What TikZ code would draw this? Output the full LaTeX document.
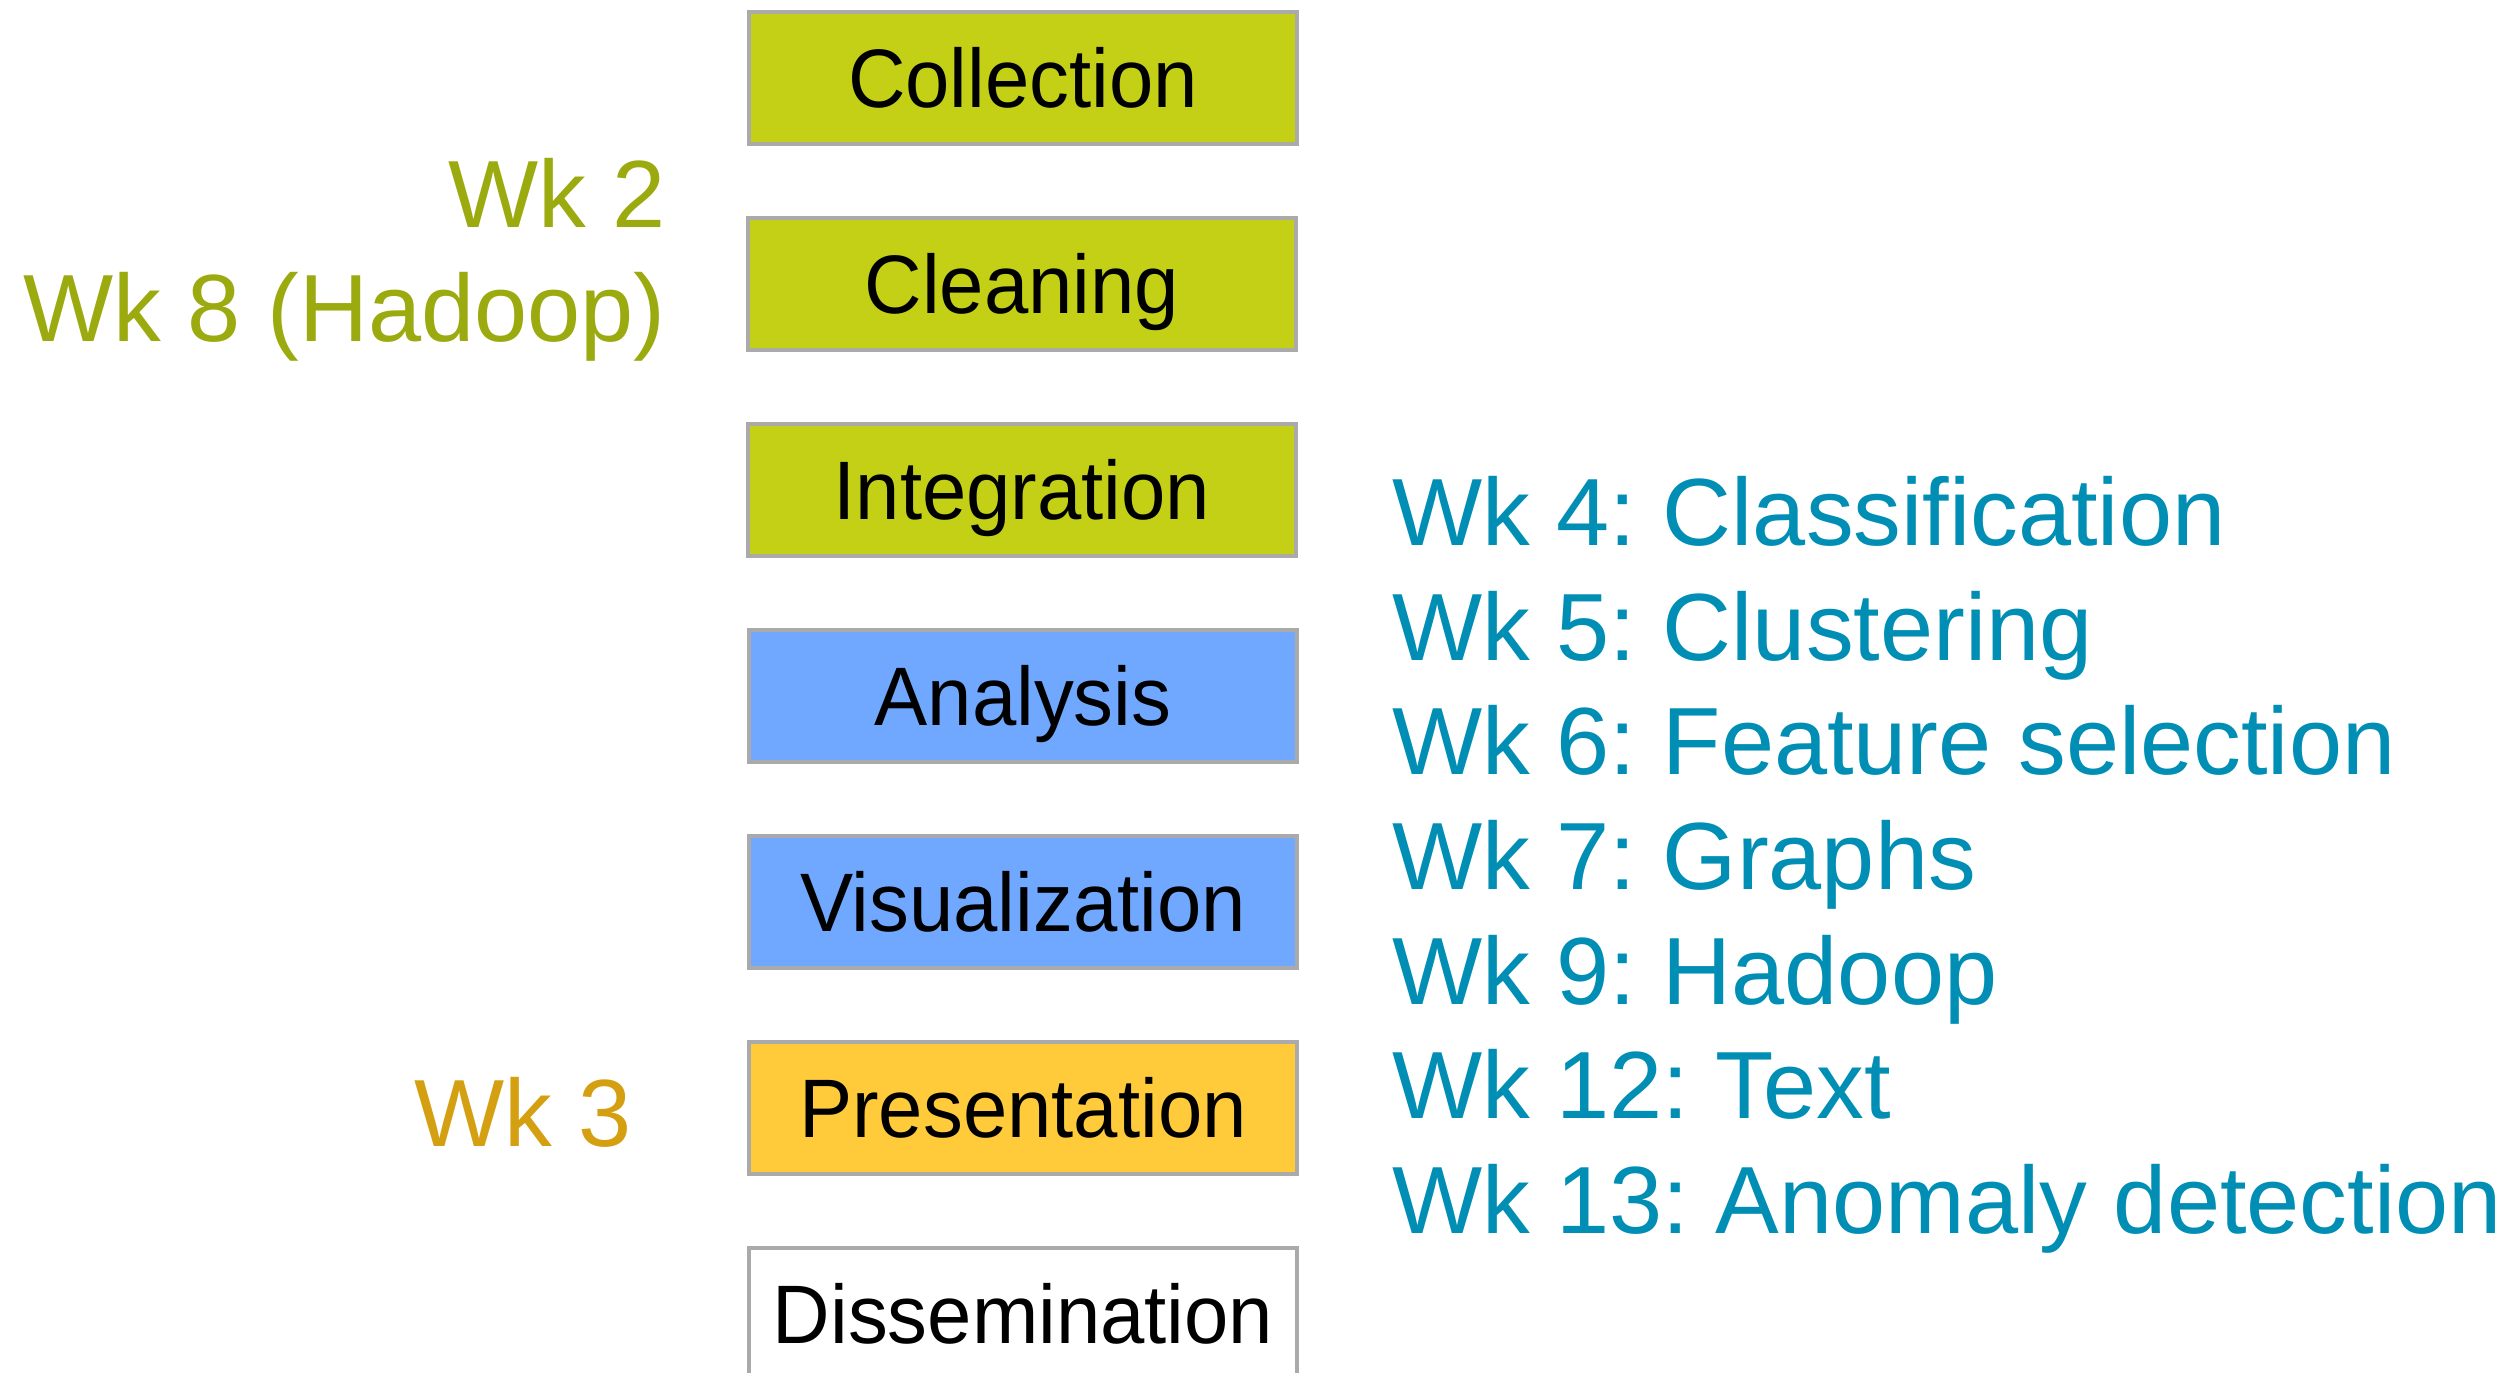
\documentclass[tikz,border=0pt]{standalone}
\usepackage{fontspec}
\setmainfont{Liberation Sans}
\newfontfamily\stagefont[FakeStretch=0.96]{Liberation Sans}
\definecolor{boxgreen}{HTML}{C4D016}
\definecolor{boxblue}{HTML}{6FA8FE}
\definecolor{boxorange}{HTML}{FFCB3B}
\definecolor{boxborder}{HTML}{AAAAAA}
\definecolor{weekblue}{HTML}{008EB4}
\definecolor{weekolive}{HTML}{9BAA0E}
\definecolor{weekgold}{HTML}{D4A012}
\tikzset{
  stage/.style={draw=boxborder, line width=4.5pt, minimum width=548pt, minimum height=132pt,
    inner sep=0pt, text height=59.5pt, text depth=0pt, font=\stagefont\fontsize{83}{96}\selectfont},
  weeklabel/.style={inner sep=0pt, font=\frenchspacing\fontsize{95.5}{114}\selectfont},
}
\begin{document}
\begin{tikzpicture}[x=1pt,y=-1pt]
\useasboundingbox (0,0) rectangle (2514,1373);
\node[stage, fill=boxgreen]  (collection)    at (1023,78)   {Collection};
\node[stage, fill=boxgreen]  (cleaning)      at (1022,284)  {Cleaning};
\node[stage, fill=boxgreen]  (integration)   at (1022,490)  {Integration};
\node[stage, fill=boxblue]   (analysis)      at (1023,696)  {Analysis};
\node[stage, fill=boxblue]   (visualization) at (1023,902)  {Visualization};
\node[stage, fill=boxorange] (presentation)  at (1023,1108) {Presentation};
\node[stage, fill=white]     (dissemination) at (1023,1314) {Dissemination};

\node[weeklabel, text=weekolive, anchor=base east] (wk2) at (666,227) {Wk 2};
\node[weeklabel, text=weekolive, anchor=base east] (wk8) at (666,341) {Wk 8 (Hadoop)};
\node[weeklabel, text=weekgold, anchor=base east] (wk3) at (632,1146) {Wk 3};

\node[weeklabel, text=weekblue, anchor=base west] (wk4)  at (1392,545)  {Wk 4: Classification};
\node[weeklabel, text=weekblue, anchor=base west] (wk5)  at (1392,660)  {Wk 5: Clustering};
\node[weeklabel, text=weekblue, anchor=base west] (wk6)  at (1392,774)  {Wk 6: Feature selection};
\node[weeklabel, text=weekblue, anchor=base west] (wk7)  at (1392,889)  {Wk 7: Graphs};
\node[weeklabel, text=weekblue, anchor=base west] (wk9)  at (1392,1004) {Wk 9: Hadoop};
\node[weeklabel, text=weekblue, anchor=base west] (wk12) at (1392,1118) {Wk 12: Text};
\node[weeklabel, text=weekblue, anchor=base west] (wk13) at (1392,1233) {Wk 13: Anomaly detection};
\end{tikzpicture}
\end{document}
